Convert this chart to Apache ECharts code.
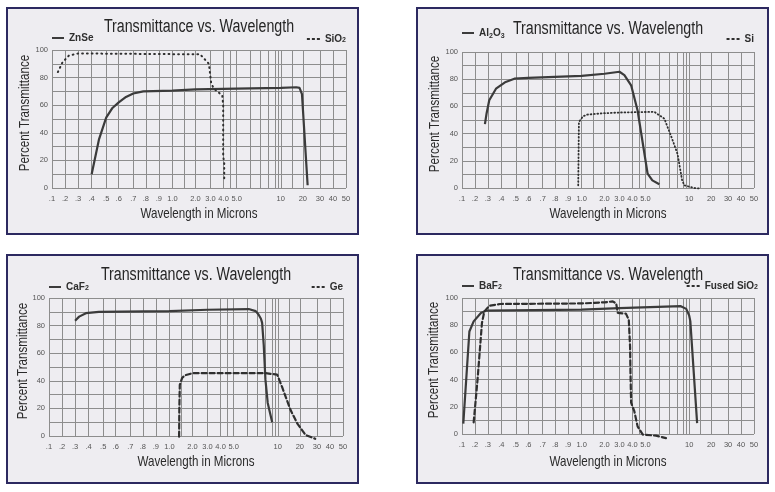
<!DOCTYPE html>
<html><head><meta charset="utf-8">
<script src="https://cdn.jsdelivr.net/npm/echarts@6/dist/echarts.min.js"></script>
<style>html,body{margin:0;padding:0;background:#fff}#c{width:775px;height:492px}</style>
</head><body><div id="c"></div>
<script>
// ---- tick labels / axis values ----
const tickLabels = ['.1','.2','.3','.4','.5','.6','.7','.8','.9','1.0','2.0','3.0','4.0','5.0','10','20','30','40','50'];
const tickWavelengths = [0.1,0.2,0.3,0.4,0.5,0.6,0.7,0.8,0.9,1,2,3,4,5,10,20,30,40,50];
const gridWavelengths = [0.1,0.2,0.3,0.4,0.5,0.6,0.7,0.8,0.9,1,1.5,2,3,4,4.5,5,6,7,8,9,9.5,10,15,20,30,40,50];
const chartTitle = 'Transmittance vs. Wavelength';
const xName = 'Wavelength in Microns';
const yName = 'Percent Transmittance';

// ---- series data: [wavelength (µm), percent transmittance] ----
const ZnSe = [[0.40,10],[0.42,20],[0.45,35],[0.5,51],[0.55,58],[0.6,62],[0.65,66],[0.7,68.5],[0.78,70],[1.0,70.5],[2.0,71.5],[5,72],[10,72.5],[17,73],[18.5,72.5],[19.6,68],[22.8,2]];
const SiO2 = [[0.145,84],[0.18,91],[0.23,96],[0.3,97.5],[1.0,97],[2.3,97],[2.89,90],[3.05,76],[3.25,72],[3.9,67],[3.97,60],[3.97,23],[4.05,18],[4.05,5]];
const Al2O3 = [[0.277,47],[0.29,55],[0.31,64.5],[0.36,73],[0.43,78],[0.49,80.4],[0.6,81],[1.0,82.5],[2.0,84],[3.0,85.5],[3.38,83],[3.9,75.5],[4.4,57],[5.16,10.5],[5.5,5.6],[6.0,2.7]];
const Si = [[0.975,2],[0.98,48.5],[1.06,52.7],[1.25,54],[2.0,55],[3.0,55.5],[5.64,56],[6.5,51],[7.3,37],[8.05,25],[8.8,6],[9.17,2],[12.3,0],[15.3,-0.5]];
const CaF2 = [[0.3,83.5],[0.33,86.5],[0.38,89],[0.47,90],[1.0,90.5],[3.0,91.5],[6.1,92],[6.8,90.5],[7.1,88],[7.4,85],[7.55,82],[7.75,66],[7.96,41],[8.33,24],[9.07,10]];
const Ge = [[1.42,-0.5],[1.43,20],[1.45,37],[1.55,42],[1.67,44],[2.0,45.5],[5,45.5],[8,45.5],[9.9,44.5],[11.9,35.7],[15.8,18.8],[18.8,9.2],[23.4,0.7],[29,-2]];
const BaF2 = [[0.11,7.6],[0.157,75.4],[0.19,82.8],[0.246,89],[0.285,90.7],[1.0,91.5],[3.0,92.5],[8.6,94],[9.5,92],[10.0,87],[10.5,83],[13.6,8]];
const FusedSiO2 = [[0.19,8.5],[0.22,40],[0.254,81.6],[0.272,90],[0.31,94.3],[0.39,95.6],[1.0,96],[2.0,96.8],[2.55,97.5],[2.78,96],[2.89,89],[3.5,88.5],[3.72,84],[3.82,64],[3.85,45],[3.9,23],[4.15,16.6],[4.4,5.6],[4.8,-0.5],[5.76,-1.2],[6.67,-3]];

// ---- axis layout: the chart's nonuniform wavelength scale ----
const AXIS_WARP = [[0.1,0],[0.2,13],[0.3,26],[0.4,39.5],[0.5,54],[0.6,66.5],[0.7,81],[0.8,93.5],[0.9,106.5],[1,120],[2,143],[3,158],[4,171],[5,184],[6,198],[7,208],[8,216],[9,222],[10,228],[20,250],[30,267],[40,280],[50,293]];
function warp(w){
  const a = AXIS_WARP;
  if (w <= a[0][0]) return a[0][1];
  for (let i=0;i<a.length-1;i++){
    if (w <= a[i+1][0]) return a[i][1] + (w-a[i][0])/(a[i+1][0]-a[i][0])*(a[i+1][1]-a[i][1]);
  }
  return a[a.length-1][1];
}
const XMAX = warp(50);
const labelPos = tickWavelengths.map(warp);
function labelFor(v){
  let best=0, bd=1e9;
  labelPos.forEach((p,i)=>{const d=Math.abs(p-v); if(d<bd){bd=d;best=i;}});
  return tickLabels[best];
}

const FONT = "'Liberation Sans', Arial, sans-serif";
const INK = '#2e2e2e';
const GRIDC = '#8d8d8d';
const SOLID_ICON = 'path://M0,0 H12 V2 H0 Z';
const DASH_ICON = 'path://M0,0 H3 V2 H0 Z M5,0 H8 V2 H5 Z M10,0 H13 V2 H10 Z';

const panels = [
  {box:[7,8,351,226], grid:{left:52,top:50,width:294,height:138}, a:{name:'ZnSe',data:ZnSe}, b:{name:'SiO2',data:SiO2,type:[0.8,4],w:2},
   legL:{left:52,top:33}, legR:{right:429,top:34}, yNameX:25, xNameY:214},
  {box:[417,8,351,226], grid:{left:462,top:52,width:292,height:136}, a:{name:'Al2O3',data:Al2O3}, b:{name:'Si',data:Si,type:[0.8,2.6],w:1.8},
   legL:{left:462,top:28}, legR:{right:21,top:34}, yNameX:435, xNameY:214},
  {box:[7,255,351,228], grid:{left:49,top:298,width:294,height:138}, a:{name:'CaF2',data:CaF2}, b:{name:'Ge',data:Ge,type:[5,3],w:2.2},
   legL:{left:49,top:282}, legR:{right:432,top:282}, yNameX:23, xNameY:462},
  {box:[417,255,351,228], grid:{left:462,top:298,width:292,height:136}, a:{name:'BaF2',data:BaF2}, b:{name:'Fused SiO2',data:FusedSiO2,type:[5,3],w:2.2},
   legL:{left:462,top:281}, legR:{right:17,top:281}, yNameX:434, xNameY:462}
];

const legendFmt = {
  'SiO2':'SiO{s|2}', 'Al2O3':'Al{b|2}O{b|3}', 'CaF2':'CaF{s|2}', 'BaF2':'BaF{s|2}', 'Fused SiO2':'Fused SiO{s|2}', 'ZnSe':'ZnSe', 'Si':'Si', 'Ge':'Ge'
};
const legendText = {
  fontFamily: FONT, fontSize: 10, color: INK, fontWeight: 'bold',
  rich: { s:{fontFamily:FONT,fontSize:7,color:INK,fontWeight:'bold',padding:[2,0,0,0]}, b:{fontFamily:FONT,fontSize:7,color:INK,fontWeight:'bold',padding:[6,0,0,0]} }
};

const graphics = [];
panels.forEach(p=>{
  graphics.push({type:'rect', z:-10, silent:true, shape:{x:p.box[0],y:p.box[1],width:p.box[2],height:p.box[3]},
     style:{fill:'#eeedf1', stroke:'#2c2960', lineWidth:2}});
  const cx = p.grid.left + p.grid.width/2, cy = p.grid.top + p.grid.height/2;
  graphics.push({type:'text', silent:true, x:cx, y:p.grid.top-23, scaleX:0.79,
     style:{text:chartTitle, fontFamily:FONT, fontSize:18, fill:'#262626', align:'center', verticalAlign:'middle'}});
  graphics.push({type:'text', silent:true, x:cx, y:p.xNameY, scaleX:0.8,
     style:{text:xName, fontFamily:FONT, fontSize:14.5, fill:'#2a2a2a', align:'center', verticalAlign:'middle'}});
  graphics.push({type:'text', silent:true, x:p.yNameX, y:cy-6, rotation:Math.PI/2, scaleX:0.8,
     style:{text:yName, fontFamily:FONT, fontSize:14.5, fill:'#2a2a2a', align:'center', verticalAlign:'middle'}});
});

const option = {
  animation:false,
  backgroundColor:'#ffffff',
  graphic: graphics,
  legend: [],
  grid: panels.map(p=>Object.assign({containLabel:false}, p.grid)),
  xAxis: panels.map((p,i)=>({type:'value', gridIndex:i, min:0, max:XMAX,
     axisLine:{show:false}, axisTick:{show:false, customValues:gridWavelengths.map(warp)},
     axisLabel:{customValues:labelPos, formatter:v=>labelFor(v), fontFamily:FONT, fontSize:7.5, color:'#555', margin:7, hideOverlap:false},
     splitLine:{show:true, lineStyle:{color:GRIDC,width:1}}})),
  yAxis: panels.map((p,i)=>({type:'value', gridIndex:i, min:0, max:100, interval:10,
     axisLine:{show:false}, axisTick:{show:false},
     axisLabel:{formatter:v=>(v%20===0?String(v):''), fontFamily:FONT, fontSize:7.5, color:'#555', margin:4},
     splitLine:{show:true, lineStyle:{color:GRIDC,width:1}}})),
  series: []
};

panels.forEach((p,i)=>{
  option.series.push({name:p.a.name, type:'line', xAxisIndex:i, yAxisIndex:i, symbol:'none', clip:false,
     data:p.a.data.map(d=>[warp(d[0]),d[1]]), lineStyle:{color:'#3b3b3b',width:2.2,type:'solid'}, itemStyle:{color:'#3b3b3b'}, z:3});
  option.series.push({name:p.b.name, type:'line', xAxisIndex:i, yAxisIndex:i, symbol:'none', clip:false,
     data:p.b.data.map(d=>[warp(d[0]),d[1]]), lineStyle:{color:'#2f2f2f',width:p.b.w,type:p.b.type,cap:'round'}, itemStyle:{color:'#2f2f2f'}, z:4});
  option.legend.push(Object.assign({id:'legA'+i, data:[p.a.name], padding:0, orient:'horizontal', itemWidth:12, itemHeight:2, itemGap:4, icon:SOLID_ICON,
     formatter:n=>legendFmt[n], textStyle:legendText, selectedMode:false}, p.legL));
  option.legend.push(Object.assign({id:'legB'+i, data:[p.b.name], padding:0, orient:'horizontal', itemWidth:13, itemHeight:2, itemGap:4, icon:DASH_ICON,
     formatter:n=>legendFmt[n], textStyle:legendText, selectedMode:false}, p.legR));
});

const chart = echarts.init(document.getElementById('c'), null, {renderer:'canvas'});
chart.setOption(option);
</script></body></html>
